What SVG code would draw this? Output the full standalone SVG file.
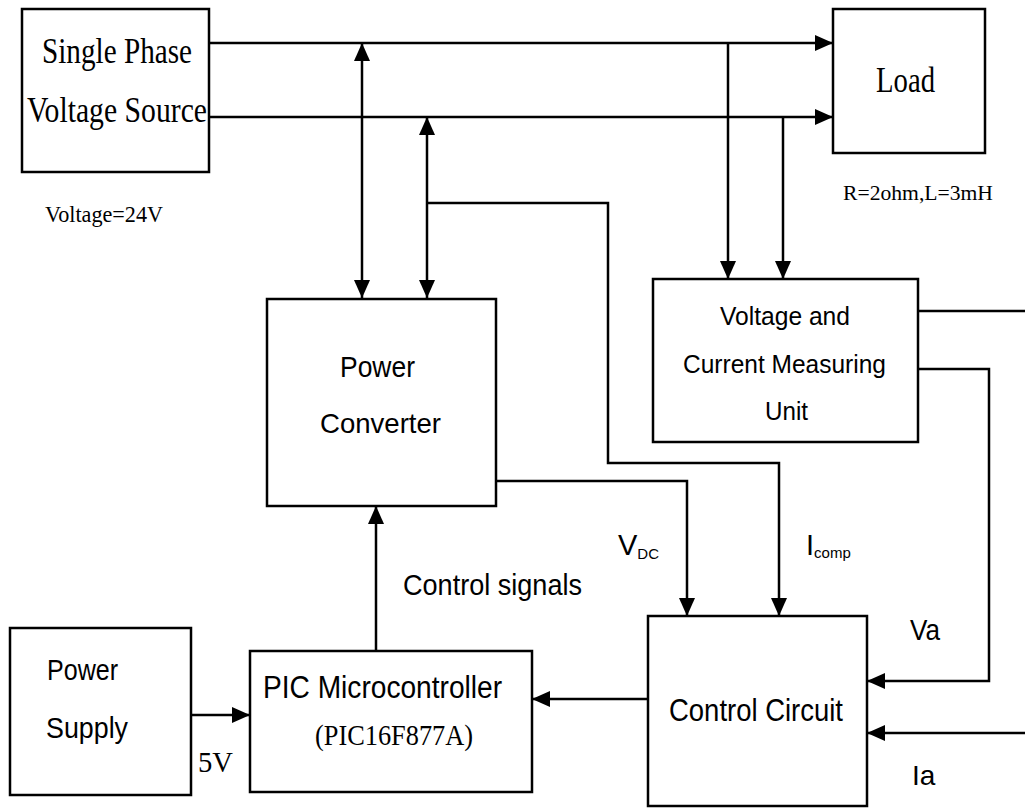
<svg xmlns="http://www.w3.org/2000/svg" width="1025" height="808" viewBox="0 0 1025 808">
<defs>
<marker id="ah" viewBox="0 0 18 16" refX="18" refY="8" markerWidth="18" markerHeight="16" markerUnits="userSpaceOnUse" orient="auto-start-reverse">
<path d="M0,0 L18,8 L0,16 Z" fill="#000"/>
</marker>
</defs>
<style>
.box{fill:#fff;stroke:#000;stroke-width:2.5}
.ln{fill:none;stroke:#000;stroke-width:2.5}
.tm{font-family:"Liberation Serif",serif;fill:#000}
.sn{font-family:"Liberation Sans",sans-serif;fill:#000}
</style>
<rect width="1025" height="808" fill="#fff"/>
<g id="connectors">
<path class="ln" d="M209,43 H833" marker-end="url(#ah)"/>
<path class="ln" d="M209,117 H833" marker-end="url(#ah)"/>
<path class="ln" d="M362,43 V298" marker-start="url(#ah)" marker-end="url(#ah)"/>
<path class="ln" d="M427,117 V298" marker-start="url(#ah)" marker-end="url(#ah)"/>
<path class="ln" d="M427,203 H608 V463 H779 V616" marker-end="url(#ah)"/>
<path class="ln" d="M728,43 V279" marker-end="url(#ah)"/>
<path class="ln" d="M783,117 V279" marker-end="url(#ah)"/>
<path class="ln" d="M496,481 H687 V616" marker-end="url(#ah)"/>
<path class="ln" d="M918,311 H1025"/>
<path class="ln" d="M918,369 H989 V681 H867" marker-end="url(#ah)"/>
<path class="ln" d="M1025,733 H867" marker-end="url(#ah)"/>
<path class="ln" d="M648,699 H532" marker-end="url(#ah)"/>
<path class="ln" d="M376,651 V506" marker-end="url(#ah)"/>
<path class="ln" d="M191,715 H250" marker-end="url(#ah)"/>
</g>
<g id="source">
<rect class="box" x="22" y="9" width="187" height="163"/>
<text class="tm" x="42" y="63" font-size="36" textLength="150" lengthAdjust="spacingAndGlyphs">Single Phase</text>
<text class="tm" x="27" y="122" font-size="36" textLength="180" lengthAdjust="spacingAndGlyphs">Voltage Source</text>
<text class="tm" x="45" y="222" font-size="24" textLength="118" lengthAdjust="spacingAndGlyphs">Voltage=24V</text>
</g>
<g id="load">
<rect class="box" x="833" y="9" width="152" height="144"/>
<text class="tm" x="876" y="92" font-size="36" textLength="59" lengthAdjust="spacingAndGlyphs">Load</text>
<text class="tm" x="843" y="200" font-size="22" textLength="150" lengthAdjust="spacingAndGlyphs">R=2ohm,L=3mH</text>
</g>
<g id="power-converter">
<rect class="box" x="267" y="299" width="229" height="207"/>
<text class="sn" x="340" y="377" font-size="30" textLength="75" lengthAdjust="spacingAndGlyphs">Power</text>
<text class="sn" x="320" y="433" font-size="28" textLength="121" lengthAdjust="spacingAndGlyphs">Converter</text>
</g>
<g id="measuring-unit">
<rect class="box" x="653" y="279" width="265" height="163"/>
<text class="sn" x="720" y="325" font-size="25" textLength="130" lengthAdjust="spacingAndGlyphs">Voltage and</text>
<text class="sn" x="683" y="373" font-size="26" textLength="203" lengthAdjust="spacingAndGlyphs">Current  Measuring</text>
<text class="sn" x="765" y="420" font-size="25" textLength="43" lengthAdjust="spacingAndGlyphs">Unit</text>
</g>
<g id="control-circuit">
<rect class="box" x="648" y="616" width="219" height="190"/>
<text class="sn" x="669" y="721" font-size="31" textLength="174" lengthAdjust="spacingAndGlyphs">Control Circuit</text>
</g>
<g id="pic">
<rect class="box" x="250" y="651" width="282" height="141"/>
<text class="sn" x="263" y="698" font-size="31" textLength="239" lengthAdjust="spacingAndGlyphs">PIC Microcontroller</text>
<text class="tm" x="315" y="745" font-size="29" textLength="158" lengthAdjust="spacingAndGlyphs">(PIC16F877A)</text>
</g>
<g id="power-supply">
<rect class="box" x="10" y="628" width="181" height="167"/>
<text class="sn" x="47" y="680" font-size="30" textLength="71" lengthAdjust="spacingAndGlyphs">Power</text>
<text class="sn" x="46" y="738" font-size="30" textLength="82" lengthAdjust="spacingAndGlyphs">Supply</text>
</g>
<g id="labels">
<text class="tm" x="198" y="772" font-size="29" textLength="35" lengthAdjust="spacingAndGlyphs">5V</text>
<text class="sn" x="403" y="595" font-size="30" textLength="179" lengthAdjust="spacingAndGlyphs">Control signals</text>
<text class="sn" x="618" y="555" font-size="29">V<tspan font-size="15" dy="4">DC</tspan></text>
<text class="sn" x="806" y="555" font-size="29">I<tspan font-size="15" dy="3">comp</tspan></text>
<text class="sn" x="910" y="640" font-size="30" textLength="30" lengthAdjust="spacingAndGlyphs">Va</text>
<text class="sn" x="912" y="785" font-size="28">Ia</text>
</g>
</svg>
